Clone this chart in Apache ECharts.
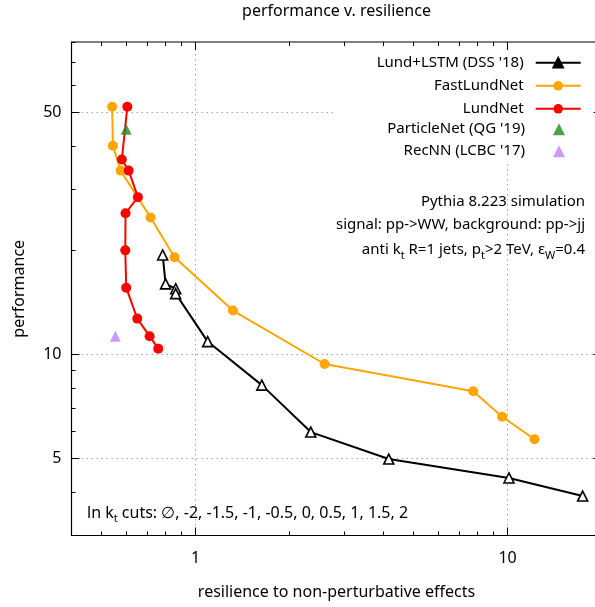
<!DOCTYPE html>
<html>
<head>
<meta charset="utf-8">
<script src="https://cdn.jsdelivr.net/npm/echarts@6/dist/echarts.min.js"></script>
<style>
  html, body { margin: 0; padding: 0; background: #fff; overflow: hidden; }
  /* the right border of the frame sits just outside the 595px window, as in the original */
  #chart { width: 602px; height: 607px; }
</style>
</head>
<body>
<div id="chart"></div>
<script>
// values (x = resilience, y = performance), ln kt cuts: none, -2 ... 2
const lundLstm = [[0.784, 19.4], [0.801, 16.0], [0.863, 15.5], [0.863, 15.0], [1.093, 10.9],
                  [1.63, 8.16], [2.34, 5.97], [4.16, 4.99], [10.1, 4.40], [17.4, 3.90]];
const fastLundNet = [[0.540, 52.0], [0.543, 40.1], [0.575, 34.0], [0.717, 24.9], [0.856, 19.1],
                     [1.317, 13.4], [2.59, 9.39], [7.76, 7.83], [9.61, 6.61], [12.2, 5.69]];
const lundNet = [[0.604, 52.0], [0.580, 36.6], [0.610, 34.0], [0.653, 28.5], [0.596, 25.6],
                 [0.595, 20.0], [0.599, 15.6], [0.650, 12.7], [0.712, 11.3], [0.759, 10.4]];
const particleNet = [[0.599, 44.8]];
const recNN = [[0.553, 11.3]];

const xRange = [0.4, 20];
const yRange = [3, 80];
const xMajor = [1, 10];
const xMinor = [0.5, 0.6, 0.7, 0.8, 0.9, 2, 3, 4, 5, 6, 7, 8, 9, 20];
const yMajor = [5, 10, 50];
const yMinor = [3, 4, 6, 7, 8, 9, 20, 30, 40, 60, 70, 80];

const FONT = 'Noto Sans';
const chart = echarts.init(document.getElementById('chart'));

// extra axes that only carry tick marks (inside, mirrored on all four sides like gnuplot)
function tickAxis(range, position, values, len) {
    return {
        type: 'log', min: range[0], max: range[1], position: position,
        axisLine: { show: false, onZero: false },
        axisLabel: { show: false }, splitLine: { show: false },
        axisTick: { show: true, inside: true, length: len, customValues: values,
                    lineStyle: { color: '#000', width: 1 } }
    };
}

function richText(size) {
    return {
        a: { fontSize: size, fontFamily: FONT, color: '#000', lineHeight: 18, verticalAlign: 'middle' },
        s: { fontSize: 11, fontFamily: FONT, color: '#000', lineHeight: 22, verticalAlign: 'bottom' }
    };
}

const option = {
    animation: false,
    textStyle: { fontFamily: FONT },
    grid: { left: 71.5, top: 42, right: 0.5, bottom: 71.5, outerBoundsMode: 'none', containLabel: false },
    xAxis: [
        {
            type: 'log', min: xRange[0], max: xRange[1], position: 'bottom',
            axisLine: { show: false, onZero: false }, axisTick: { show: false }, splitLine: { show: false },
            axisLabel: { customValues: xMajor, margin: 15, fontSize: 16, color: '#000', fontFamily: FONT },
            name: 'resilience to non-perturbative effects', nameLocation: 'middle', nameGap: 49,
            nameTextStyle: { fontSize: 16, color: '#000', fontFamily: FONT }
        },
        tickAxis(xRange, 'bottom', xMinor.concat(xMajor), 4),
        tickAxis(xRange, 'top', xMinor.concat(xMajor), 4),
        tickAxis(xRange, 'bottom', xMajor, 8),
        tickAxis(xRange, 'top', xMajor, 8)
    ],
    yAxis: [
        {
            type: 'log', min: yRange[0], max: yRange[1], position: 'left',
            axisLine: { show: false, onZero: false }, axisTick: { show: false }, splitLine: { show: false },
            axisLabel: { customValues: yMajor, margin: 10, fontSize: 16, color: '#000', fontFamily: FONT },
            name: 'performance', nameLocation: 'middle', nameGap: 44,
            nameTextStyle: { fontSize: 16, color: '#000', fontFamily: FONT }
        },
        tickAxis(yRange, 'left', yMinor.concat(yMajor), 4),
        tickAxis(yRange, 'right', yMinor.concat(yMajor), 4),
        tickAxis(yRange, 'left', yMajor, 8),
        tickAxis(yRange, 'right', yMajor, 8)
    ],
    legend: [
        {
            orient: 'vertical', align: 'right', right: 20.3, top: 55.3, z: 6, padding: 0,
            itemWidth: 45, itemHeight: 12, itemGap: 8,
            textStyle: { fontSize: 15, lineHeight: 12, color: '#000', fontFamily: FONT, padding: [0, 7, 0, 0] },
            data: [
                { name: 'Lund+LSTM (DSS \'18)', itemStyle: { color: '#000', borderColor: '#000' } },
                'FastLundNet', 'LundNet'
            ]
        },
        {
            orient: 'vertical', align: 'right', right: 37, top: 121.7, z: 6, padding: 0,
            itemWidth: 12, itemHeight: 12, itemGap: 7,
            textStyle: { fontSize: 15, lineHeight: 12, color: '#000', fontFamily: FONT, padding: [0, 23, 0, 0] },
            data: ['ParticleNet (QG \'19)', 'RecNN (LCBC \'17)']
        }
    ],
    graphic: [
        { type: 'rect', z: -1, silent: true, shape: { x: 336, y: 43, width: 266, height: 118 },
          style: { fill: '#fff' } },
        { type: 'text', x: 336.5, y: 11, style: { text: 'performance v. resilience', fill: '#000',
          font: '16px "Noto Sans"', align: 'center', verticalAlign: 'middle' } },
        { type: 'text', x: 585, y: 202, style: { text: 'Pythia 8.223 simulation', fill: '#000',
          font: '15px "Noto Sans"', align: 'right', verticalAlign: 'middle' } },
        { type: 'text', x: 585, y: 225, style: { text: 'signal: pp->WW, background: pp->jj', fill: '#000',
          font: '15px "Noto Sans"', align: 'right', verticalAlign: 'middle' } },
        { type: 'text', x: 585, y: 250, style: {
            text: '{a|anti k}{s|t}{a| R=1 jets, p}{s|t}{a|>2 TeV, ε}{s|W}{a|=0.4}',
            align: 'right', verticalAlign: 'middle', rich: richText(15) } },
        { type: 'text', x: 87, y: 513, style: {
            text: '{a|ln k}{s|t}{a| cuts: ∅, -2, -1.5, -1, -0.5, 0, 0.5, 1, 1.5, 2}',
            align: 'left', verticalAlign: 'middle', rich: richText(16) } }
    ],
    series: [
        {
            name: 'grid', type: 'scatter', data: [], z: -2, silent: true,
            markLine: {
                silent: true, symbol: 'none', label: { show: false }, z: -2,
                lineStyle: { color: '#a0a0a0', type: [1.5, 3.5], width: 1 },
                data: xMajor.map(v => ({ xAxis: v })).concat(yMajor.map(v => ({ yAxis: v })))
            }
        },
        {
            name: 'frame', type: 'custom', silent: true, z: 4, clip: false,
            data: [[xRange[0], yRange[0]]],
            renderItem: (params, api) => {
                const a = api.coord([xRange[0], yRange[0]]);
                const b = api.coord([xRange[1], yRange[1]]);
                return { type: 'rect', shape: { x: a[0], y: b[1], width: b[0] - a[0], height: a[1] - b[1] },
                         style: { fill: 'none', stroke: '#000', lineWidth: 1.2 } };
            }
        },
        {
            name: 'Lund+LSTM (DSS \'18)', type: 'line', data: lundLstm, z: 3,
            symbol: 'triangle', symbolSize: 10,
            lineStyle: { color: '#000', width: 2 },
            itemStyle: { color: '#fff', borderColor: '#000', borderWidth: 1.6 }
        },
        {
            name: 'FastLundNet', type: 'line', data: fastLundNet, z: 3,
            symbol: 'circle', symbolSize: 10,
            lineStyle: { color: '#ffa500', width: 2 }, itemStyle: { color: '#ffa500' }
        },
        {
            name: 'LundNet', type: 'line', data: lundNet, z: 3,
            symbol: 'circle', symbolSize: 10,
            lineStyle: { color: '#ff0000', width: 2 }, itemStyle: { color: '#ff0000' }
        },
        {
            name: 'ParticleNet (QG \'19)', type: 'scatter', data: particleNet, z: 3,
            symbol: 'triangle', symbolSize: 11, itemStyle: { color: '#228b22' }
        },
        {
            name: 'RecNN (LCBC \'17)', type: 'scatter', data: recNN, z: 3,
            symbol: 'triangle', symbolSize: 11, itemStyle: { color: '#c080ff' }
        }
    ]
};

chart.setOption(option);
</script>
</body>
</html>
